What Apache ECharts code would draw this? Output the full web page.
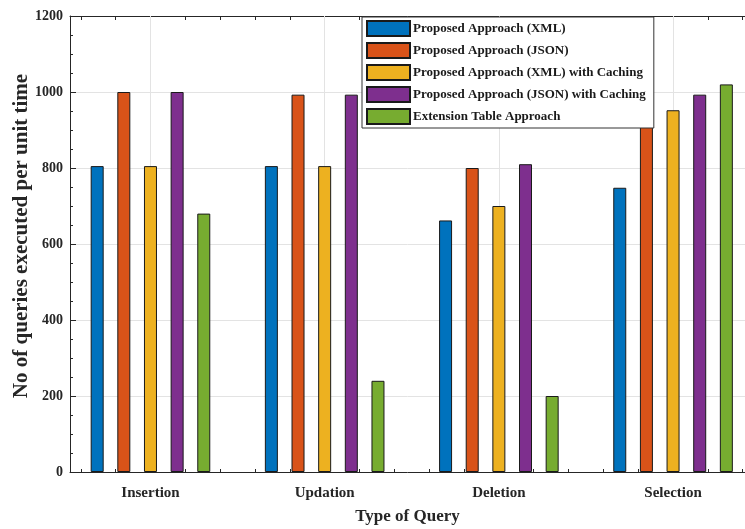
<!DOCTYPE html>
<html>
<head>
<meta charset="utf-8">
<script src="https://cdn.jsdelivr.net/npm/echarts@6/dist/echarts.min.js"></script>
<style>html,body{margin:0;padding:0;background:#fff;}#c{width:745px;height:529px;}</style>
</head>
<body>
<div id="c"></div>
<script>
var categories = ['Insertion', 'Updation', 'Deletion', 'Selection'];
var categoryPositions = [1, 2, 3, 4];
var seriesNames = ['Proposed Approach (XML)', 'Proposed Approach (JSON)', 'Proposed Approach (XML) with Caching', 'Proposed Approach (JSON) with Caching', 'Extension Table Approach'];
var xmlValues = [805, 805, 662, 748];
var jsonValues = [1000, 993, 800, 922];
var xmlCachingValues = [805, 805, 700, 952];
var jsonCachingValues = [1000, 993, 810, 993];
var extensionValues = [680, 240, 200, 1020];
var yTicks = [0, 200, 400, 600, 800, 1000, 1200];
var minorXTicks = [0.6, 0.8, 1.2, 1.4, 1.6, 1.8, 2.2, 2.4, 2.6, 2.8, 3.2, 3.4, 3.6, 3.8, 4.2, 4.4];
var allXTicks = [0.6, 0.8, 1, 1.2, 1.4, 1.6, 1.8, 2, 2.2, 2.4, 2.6, 2.8, 3, 3.2, 3.4, 3.6, 3.8, 4, 4.2, 4.4];

var colors = ['#0072BD', '#D95319', '#EDB120', '#7E2F8E', '#77AC30'];
var valueSets = [xmlValues, jsonValues, xmlCachingValues, jsonCachingValues, extensionValues];
var font = 'Liberation Serif';
var axisColor = '#262626';
var gridColor = '#e3e3e3';

function pairs(vals) {
  return vals.map(function (v, i) { return [categoryPositions[i], v]; });
}

var series = valueSets.map(function (vals, k) {
  var s = {
    name: seriesNames[k],
    type: 'bar',
    xAxisIndex: 0,
    yAxisIndex: 0,
    barWidth: 13,
    barGap: '105%',
    z: 2,
    data: pairs(vals),
    itemStyle: { color: colors[k], borderColor: '#1a1a1a', borderWidth: 1 }
  };
  if (k === 2) {
    s.markLine = {
      silent: true,
      z: 1,
      symbol: 'none',
      animation: false,
      label: { show: false },
      lineStyle: { color: gridColor, type: 'solid', width: 1 },
      data: categoryPositions.map(function (p) { return { xAxis: p }; })
    };
  }
  return s;
});

var chart = echarts.init(document.getElementById('c'));
chart.setOption({
  animation: false,
  backgroundColor: '#fff',
  color: colors,
  grid: { left: 70, right: 0, top: 16, bottom: 57, outerBoundsMode: 'none', containLabel: false },
  legend: {
    orient: 'vertical',
    left: 362,
    top: 17,
    align: 'left',
    itemWidth: 43,
    itemHeight: 15,
    itemGap: 5,
    padding: [3, 8, 3, 4],
    borderColor: '#333',
    borderWidth: 1,
    backgroundColor: '#fff',
    icon: 'rect',
    textStyle: { fontFamily: font, fontWeight: 'bold', fontSize: 13, color: '#1a1a1a', padding: [0, 0, 0, -2] },
    data: seriesNames
  },
  xAxis: [
    {
      type: 'value', min: 0.538, max: 4.413, position: 'bottom',
      name: 'Type of Query', nameLocation: 'middle', nameGap: 36,
      nameTextStyle: { fontFamily: font, fontWeight: 'bold', fontSize: 17, color: axisColor },
      axisLine: { show: true, lineStyle: { color: axisColor, width: 1 } },
      axisTick: { show: true, inside: true, length: 5, customValues: categoryPositions, lineStyle: { color: axisColor } },
      axisLabel: {
        customValues: categoryPositions, margin: 14,
        fontFamily: font, fontWeight: 'bold', fontSize: 15, color: axisColor,
        formatter: function (v) { return categories[Math.round(v) - 1]; }
      },
      splitLine: { show: false }
    },
    {
      type: 'value', min: 0.538, max: 4.413, position: 'bottom',
      axisLine: { show: false },
      axisTick: { show: true, inside: true, length: 3, customValues: minorXTicks, lineStyle: { color: axisColor } },
      axisLabel: { show: false },
      splitLine: { show: false }
    },
    {
      type: 'value', min: 0.538, max: 4.413, position: 'top',
      axisLine: { show: true, lineStyle: { color: axisColor, width: 1 } },
      axisTick: { show: true, inside: true, length: 4, customValues: allXTicks, lineStyle: { color: axisColor } },
      axisLabel: { show: false },
      splitLine: { show: false }
    }
  ],
  yAxis: [
    {
      type: 'value', min: 0, max: 1200, interval: 200,
      name: 'No of queries executed per unit time', nameLocation: 'middle', nameGap: 38,
      nameMoveOverlap: false,
      nameTextStyle: { fontFamily: font, fontWeight: 'bold', fontSize: 21, color: axisColor, padding: [0, 0, 0, 16] },
      axisLine: { show: true, lineStyle: { color: axisColor, width: 1 } },
      axisTick: { show: true, inside: true, length: 6, lineStyle: { color: axisColor } },
      minorTick: { show: true, splitNumber: 4, length: 3, lineStyle: { color: axisColor } },
      axisLabel: {
        margin: 7, fontFamily: font, fontWeight: 'bold', fontSize: 14, color: axisColor,
        customValues: yTicks,
        formatter: function (v) { return String(v); }
      },
      splitLine: { show: true, lineStyle: { color: gridColor, width: 1 } }
    }
  ],
  series: series
});
</script>
</body>
</html>
